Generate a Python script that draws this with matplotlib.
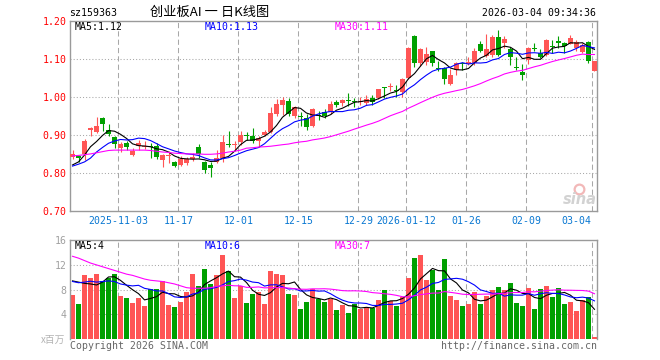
import numpy as np
import pandas as pd
import matplotlib
matplotlib.use('Agg')
import matplotlib.pyplot as plt
from matplotlib.transforms import blended_transform_factory
from matplotlib.lines import Line2D

# ---------------- data ----------------
opens = [0.844, 0.845, 0.850, 0.913, 0.909, 0.945, 0.914, 0.895, 0.866, 0.881,
         0.848, 0.871, 0.870, 0.871, 0.873, 0.835, 0.845, 0.830, 0.823, 0.828,
         0.837, 0.869, 0.829, 0.822, 0.830, 0.839, 0.877, 0.875, 0.883, 0.900,
         0.899, 0.886, 0.902, 0.910, 0.955, 0.980, 0.990, 0.951, 0.950, 0.945,
         0.925, 0.952, 0.961, 0.962, 0.988, 0.986, 0.992, 0.990, 0.987, 0.984,
         0.997, 0.997, 1.026, 1.026, 1.018, 1.015, 1.052, 1.162, 1.089, 1.092,
         1.121, 1.077, 1.078, 1.035, 1.072, 1.090, 1.088, 1.089, 1.139, 1.110,
         1.111, 1.158, 1.143, 1.127, 1.079, 1.067, 1.098, 1.130, 1.116, 1.111,
         1.134, 1.146, 1.143, 1.140, 1.129, 1.120, 1.146, 1.070]
highs = [0.861, 0.847, 0.890, 0.922, 0.949, 0.948, 0.931, 0.898, 0.882, 0.885,
         0.866, 0.887, 0.884, 0.880, 0.879, 0.851, 0.860, 0.832, 0.845, 0.842,
         0.853, 0.877, 0.833, 0.830, 0.861, 0.900, 0.912, 0.885, 0.911, 0.909,
         0.920, 0.898, 0.915, 0.975, 0.995, 1.002, 0.998, 0.978, 0.962, 0.955,
         0.972, 0.965, 0.968, 0.990, 0.992, 0.995, 1.011, 0.999, 1.001, 1.006,
         1.005, 1.023, 1.028, 1.038, 1.032, 1.051, 1.133, 1.163, 1.130, 1.133,
         1.122, 1.095, 1.081, 1.074, 1.094, 1.092, 1.105, 1.130, 1.148, 1.166,
         1.163, 1.177, 1.161, 1.133, 1.107, 1.088, 1.133, 1.142, 1.128, 1.153,
         1.151, 1.161, 1.145, 1.163, 1.151, 1.142, 1.149, 1.096]
lows = [0.837, 0.830, 0.835, 0.897, 0.905, 0.912, 0.897, 0.866, 0.856, 0.861,
        0.845, 0.861, 0.865, 0.841, 0.838, 0.817, 0.826, 0.817, 0.820, 0.821,
        0.833, 0.840, 0.800, 0.789, 0.826, 0.831, 0.870, 0.860, 0.875, 0.888,
        0.880, 0.868, 0.898, 0.905, 0.951, 0.953, 0.950, 0.945, 0.925, 0.913,
        0.922, 0.940, 0.946, 0.957, 0.975, 0.978, 0.977, 0.975, 0.980, 0.980,
        0.980, 0.995, 0.997, 1.017, 1.001, 1.002, 1.047, 1.080, 1.082, 1.085,
        1.083, 1.070, 1.034, 1.033, 1.059, 1.072, 1.085, 1.085, 1.118, 1.107,
        1.107, 1.108, 1.130, 1.085, 1.073, 1.046, 1.088, 1.122, 1.104, 1.108,
        1.116, 1.129, 1.116, 1.139, 1.121, 1.117, 1.089, 1.069]
closes = [0.851, 0.839, 0.885, 0.919, 0.924, 0.931, 0.903, 0.877, 0.878, 0.870,
          0.860, 0.879, 0.872, 0.868, 0.844, 0.848, 0.848, 0.820, 0.837, 0.837,
          0.844, 0.851, 0.809, 0.815, 0.841, 0.882, 0.875, 0.877, 0.902, 0.898,
          0.885, 0.893, 0.910, 0.958, 0.983, 0.994, 0.955, 0.975, 0.948, 0.921,
          0.968, 0.950, 0.950, 0.982, 0.981, 0.994, 0.990, 0.988, 0.990, 0.995,
          0.988, 1.021, 1.024, 1.028, 1.016, 1.047, 1.130, 1.091, 1.126, 1.113,
          1.091, 1.075, 1.047, 1.059, 1.091, 1.088, 1.094, 1.122, 1.122, 1.127,
          1.159, 1.112, 1.153, 1.107, 1.077, 1.059, 1.129, 1.128, 1.107, 1.151,
          1.132, 1.144, 1.136, 1.155, 1.146, 1.137, 1.096, 1.096]
volumes = [7.16, 5.69, 10.28, 9.95, 10.6, 9.46, 9.9, 10.44, 7.0, 6.67,
           5.85, 6.67, 5.36, 8.15, 8.15, 9.46, 5.52, 5.2, 6.01, 7.65,
           10.44, 8.64, 11.26, 8.96, 10.28, 13.56, 10.93, 6.67, 8.64, 5.85,
           7.32, 7.65, 5.69, 10.93, 10.44, 10.28, 7.32, 7.16, 4.87, 6.01,
           8.15, 6.5, 6.01, 6.4, 4.7, 5.52, 4.21, 5.69, 4.87, 5.2,
           5.03, 6.34, 7.98, 6.18, 5.36, 6.83, 9.79, 13.07, 13.56, 9.62,
           11.1, 7.98, 12.9, 7.0, 6.34, 5.36, 5.69, 7.65, 5.69, 7.0,
           7.98, 8.48, 7.98, 9.13, 5.85, 5.36, 8.31, 4.87, 8.15, 8.64,
           6.83, 8.31, 5.69, 5.9, 4.54, 6.34, 6.83, 0.28]

# moving-average values for the first days, whose windows reach back before the chart
close_ma5_lead = [0.822, 0.830, 0.848, 0.870]
close_ma10_lead = [0.819, 0.824, 0.830, 0.840, 0.856, 0.868, 0.879, 0.885, 0.889]
close_ma30_lead = [0.846, 0.847, 0.849, 0.851, 0.854, 0.857, 0.860, 0.861, 0.861, 0.861,
                   0.861, 0.861, 0.861, 0.860, 0.858, 0.856, 0.855, 0.853, 0.852, 0.851,
                   0.851, 0.851, 0.850, 0.850, 0.851, 0.853, 0.856, 0.858, 0.861]
vol_ma5_lead = [9.4, 9.2, 9.0, 8.9]
vol_ma10_lead = [9.3, 9.1, 9.2, 9.35, 9.2, 9.3, 9.4, 9.3, 8.9]
vol_ma30_lead = [13.4, 13.1, 12.7, 12.3, 12.0, 11.7, 11.4, 11.1, 10.8, 10.5,
                 10.3, 10.0, 9.7, 9.5, 9.4, 9.3, 9.1, 8.9, 8.6, 8.3,
                 8.2, 8.2, 8.2, 8.3, 8.5, 8.6, 8.7, 8.6, 8.6]

date_tick_index = [8, 18, 28, 38, 48, 56, 66, 76, 87]
date_tick_labels = ['2025-11-03', '11-17', '12-01', '12-15', '12-29',
                    '2026-01-12', '01-26', '02-09', '03-04']
price_ticks = [0.70, 0.80, 0.90, 1.00, 1.10, 1.20]
vol_ticks = [4, 8, 12, 16]

code_text = 'sz159363'
title_text = '创业板AI 一 日K线图'
time_text = '2026-03-04 09:34:36'
price_legend = ['MA5:1.12', 'MA10:1.13', 'MA30:1.11']
vol_legend = ['MA5:4', 'MA10:6', 'MA30:7']

# ---------------- helpers ----------------
W, H = 660, 360
def fx(px):
    return px / W
def fy(py):
    return 1 - py / H

RED = '#ff5555'
GREEN = '#00a000'
GRID = '#a8a8a8'
FRAME = '#9a9a9a'
MONO = 'DejaVu Sans Mono'
CJK = ['Noto Sans CJK SC', 'DejaVu Sans']
FS = 7.1
MA_COLORS = ['black', '#0000ff', '#ff00ff']

def moving_average(values, n, lead):
    s = pd.Series(values, dtype=float).rolling(n).mean().to_numpy()
    s[:len(lead)] = lead
    return s

o = np.array(opens); h = np.array(highs); l = np.array(lows); c = np.array(closes)
v = np.array(volumes)
x = np.arange(len(c))
colors = np.where(c >= o, RED, GREEN)

fig = plt.figure(figsize=(6.6, 3.6), dpi=100)

# ---------------- price panel ----------------
ax1 = fig.add_axes([fx(70), fy(211.3), fx(527), 190 / H])
ax1.set_xlim(-0.42, len(c) - 0.58)
ax1.set_ylim(0.70, 1.20)
grid_x = [i - 0.35 for i in date_tick_index]
for gx in grid_x:
    ax1.axvline(gx, color=GRID, lw=0.75, ls=(0, (5, 3)), zorder=0)
for gy in price_ticks[1:-1]:
    ax1.axhline(gy, color=GRID, lw=0.75, ls=(0, (1, 2)), zorder=0)

ax1.vlines(x, l, h, colors=colors, lw=0.8, zorder=2)
body_bottom = np.minimum(o, c)
body_h = np.maximum(np.abs(c - o), 0.003)
ax1.bar(x, body_h, bottom=body_bottom, width=0.8, color=colors, linewidth=0, zorder=3)

for n, lead, col in zip([5, 10, 30], [close_ma5_lead, close_ma10_lead, close_ma30_lead], MA_COLORS):
    ax1.plot(x, moving_average(closes, n, lead), color=col, lw=0.8, zorder=4)

ax1.set_xticks([])
ax1.set_yticks(price_ticks)
ax1.set_yticklabels(['%.2f' % t for t in price_ticks])
ax1.tick_params(axis='y', length=0, pad=2.6, labelcolor='red', labelsize=FS)
for lab in ax1.get_yticklabels():
    lab.set_family(MONO)
for sp in ax1.spines.values():
    sp.set_color(FRAME)
    sp.set_linewidth(1.0)

# date labels
trans = blended_transform_factory(ax1.transData, fig.transFigure)
for k, (gx, lab) in enumerate(zip(grid_x, date_tick_labels)):
    ha = 'right' if k == len(grid_x) - 1 else 'center'
    xx = gx + 0.0 if ha == 'center' else gx - 0.1
    ax1.text(xx, fy(221.5), lab, transform=trans, ha=ha, va='center',
             fontsize=FS, family=MONO, color='#0a78d2')

# ---------------- volume panel ----------------
ax2 = fig.add_axes([fx(70), fy(338.7), fx(527), 98.4 / H])
ax2.set_xlim(-0.42, len(c) - 0.58)
ax2.set_ylim(0, 16)
for gx in grid_x:
    ax2.axvline(gx, color=GRID, lw=0.75, ls=(0, (5, 3)), zorder=0)
for gy in vol_ticks[:-1]:
    ax2.axhline(gy, color=GRID, lw=0.75, ls=(0, (1, 2)), zorder=0)
ax2.bar(x, v, width=0.8, color=colors, linewidth=0, zorder=2)
for n, lead, col in zip([5, 10, 30], [vol_ma5_lead, vol_ma10_lead, vol_ma30_lead], MA_COLORS):
    ax2.plot(x, moving_average(volumes, n, lead), color=col, lw=0.8, zorder=4)
ax2.set_xticks([])
ax2.set_yticks(vol_ticks)
ax2.set_yticklabels([str(t) for t in vol_ticks])
ax2.tick_params(axis='y', length=0, pad=2.6, labelcolor='#a0a0a0', labelsize=FS)
for lab in ax2.get_yticklabels():
    lab.set_family(MONO)
for name, sp in ax2.spines.items():
    sp.set_color(FRAME)
    sp.set_linewidth(1.0)
ax2.spines['bottom'].set_visible(False)

# ---------------- texts ----------------
fig.text(fx(69.5), fy(12.7), code_text, ha='left', va='center', fontsize=FS, family=MONO)
fig.text(fx(150), fy(12.7), title_text, ha='left', va='center', fontsize=9.5, family=CJK)
fig.text(fx(596.5), fy(12.7), time_text, ha='right', va='center', fontsize=FS, family=MONO)
for px, txt, col in zip([74.4, 204.8, 334.3], price_legend, MA_COLORS):
    fig.text(fx(px), fy(26.7), txt, ha='left', va='center', fontsize=FS, family=MONO, color=col)
for px, txt, col in zip([74.4, 204.8, 334.3], vol_legend, MA_COLORS):
    fig.text(fx(px), fy(246), txt, ha='left', va='center', fontsize=FS, family=MONO, color=col)
fig.text(fx(65.5), fy(340), 'x百万', ha='right', va='center', fontsize=7, family=CJK, color='#b4b4b4')
fig.text(fx(70), fy(346), 'Copyright 2026 SINA.COM', ha='left', va='center',
         fontsize=FS, family=MONO, color='#666666')
fig.text(fx(597), fy(346), 'http://finance.sina.com.cn', ha='right', va='center',
         fontsize=FS, family=MONO, color='#666666')

# sina watermark
fig.add_artist(Line2D([fx(579)], [fy(189)], marker='o', markersize=7, mfc='none',
                      mec='#f2b8b8', mew=1.6, transform=fig.transFigure))
fig.text(fx(597), fy(199), 'sina', ha='right', va='center', fontsize=10.5,
         fontstyle='italic', fontweight='bold', color='#d2d2d2', family='DejaVu Sans')

fig.savefig('out.png', dpi=100)
